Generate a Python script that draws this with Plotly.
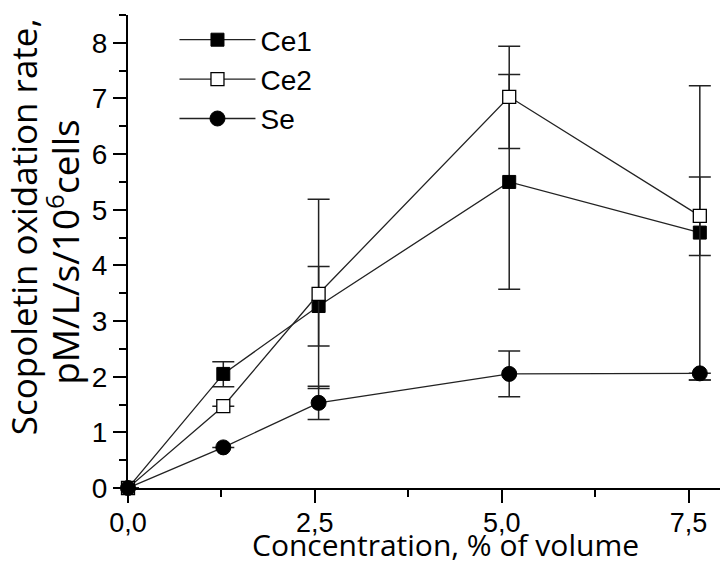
import plotly.graph_objects as go

conc = [0.0, 1.275, 2.55, 5.1, 7.65]

ce1 = [0.0, 2.05, 3.27, 5.50, 4.59]
ce1_up = [0.0, 0.22, 0.71, 1.93, 2.64]
ce1_dn = [0.0, 0.23, 0.72, 1.93, 2.65]

ce2 = [0.0, 1.47, 3.49, 7.03, 4.89]
ce2_up = [0.0, 0.0, 1.70, 0.91, 0.70]
ce2_dn = [0.0, 0.0, 1.70, 0.93, 0.71]

se = [0.0, 0.73, 1.53, 2.05, 2.06]
se_up = [0.0, 0.0, 0.30, 0.41, 0.0]
se_dn = [0.0, 0.0, 0.30, 0.41, 0.12]

x_title = "Concentration, % of volume"
y_title_1 = "Scopoletin oxidation rate,"
y_title_2 = "pM/L/s/10<sup>6</sup>cells"

series = [
    ("Ce1", ce1, ce1_up, ce1_dn, dict(symbol="square", size=13, color="black", line=dict(color="black", width=1))),
    ("Ce2", ce2, ce2_up, ce2_dn, dict(symbol="square", size=13, color="white", line=dict(color="black", width=1.3))),
    ("Se", se, se_up, se_dn, dict(symbol="circle", size=15, color="black", line=dict(color="black", width=1))),
]

fig = go.Figure()
for name, ys, up, dn, mk in series:
    fig.add_trace(go.Scatter(
        x=conc, y=ys, name=name, mode="lines+markers",
        line=dict(color="#222222", width=1.3),
        marker=mk, cliponaxis=False, legendgroup=name,
        error_y=dict(type="data", symmetric=False, array=up, arrayminus=dn,
                     color="#222222", thickness=1.5, width=11),
    ))

fig.update_layout(
    width=720, height=566,
    margin=dict(l=128, r=0, t=15, b=78),
    paper_bgcolor="white", plot_bgcolor="white",
    separators=",.",
    font=dict(family="Liberation Sans, Arial", color="black"),
    showlegend=True,
    legend=dict(x=0.0785, y=1.0, xanchor="left", yanchor="top", itemwidth=76,
                font=dict(size=28, family="Liberation Sans, Arial"),
                bgcolor="rgba(0,0,0,0)", tracegroupgap=4, traceorder="normal"),
    annotations=[
        dict(text=x_title, xref="paper", yref="paper", x=0.5355, y=-(566 - 488) / 473,
             xanchor="center", yanchor="bottom", showarrow=False, borderpad=0,
             font=dict(family="Open Sans", size=30, color="black")),
        dict(text=y_title_1, xref="paper", yref="paper", x=-0.176, y=0.553,
             xanchor="center", yanchor="middle", showarrow=False, textangle=-90,
             font=dict(family="Open Sans", size=35, color="black")),
        dict(text=y_title_2, xref="paper", yref="paper", x=-0.1084, y=0.499,
             xanchor="center", yanchor="middle", showarrow=False, textangle=-90,
             font=dict(family="Open Sans", size=37, color="black")),
    ],
)
fig.update_xaxes(
    range=[0, 7.92], tickmode="linear", tick0=0, dtick=2.5, tickformat=".1f",
    showgrid=False, zeroline=False, showline=True, linecolor="black", linewidth=2,
    ticks="outside", ticklen=13, tickwidth=2, tickcolor="black", ticklabelstandoff=-3,
    minor=dict(dtick=1.25, ticks="outside", ticklen=7, tickwidth=2, tickcolor="black"),
    tickfont=dict(size=27, family="Liberation Sans, Arial"),
)
fig.update_yaxes(
    range=[0, 8.5], tickmode="linear", tick0=0, dtick=1,
    showgrid=False, zeroline=False, showline=True, linecolor="black", linewidth=2,
    ticks="outside", ticklen=13, tickwidth=2, tickcolor="black",
    minor=dict(dtick=0.5, ticks="outside", ticklen=7, tickwidth=2, tickcolor="black"),
    tickfont=dict(size=28, family="Liberation Sans, Arial"),
)

fig.write_html("out.html")
